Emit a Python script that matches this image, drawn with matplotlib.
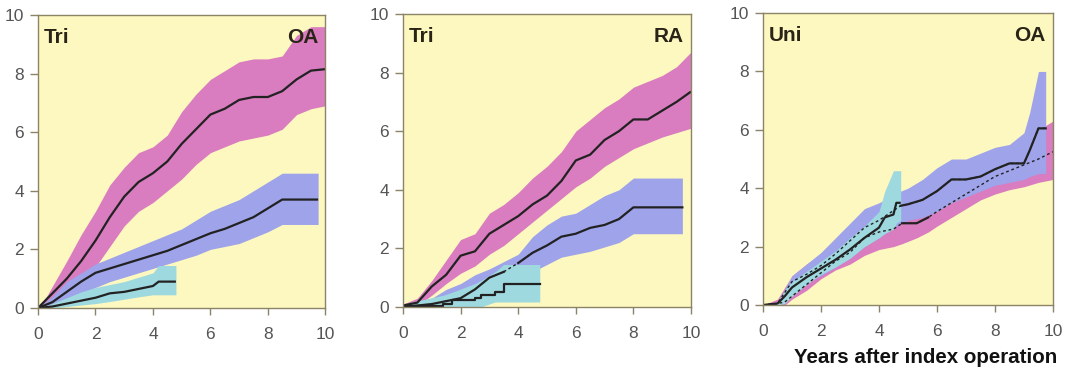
import matplotlib.pyplot as plt
import numpy as np

plt.rcParams['font.family'] = ['Liberation Sans', 'DejaVu Sans']

# ---- panel 1: Tri / OA ----
p1_mag_x = [0, 0.3, 1, 1.5, 2, 2.5, 3, 3.5, 4, 4.5, 5, 5.5, 6, 6.5, 7, 7.5, 8, 8.5, 9, 9.5, 10]
p1_mag_y = [0, 0.3, 1.0, 1.6, 2.3, 3.1, 3.8, 4.3, 4.6, 5.0, 5.6, 6.1, 6.6, 6.8, 7.1, 7.2, 7.2, 7.4, 7.8, 8.1, 8.15]
p1_mag_hi = [0, 0.4, 1.6, 2.5, 3.3, 4.2, 4.8, 5.3, 5.5, 5.9, 6.7, 7.3, 7.8, 8.1, 8.4, 8.5, 8.5, 8.6, 9.3, 9.6, 9.6]
p1_mag_lo = [0, 0.1, 0.4, 0.9, 1.4, 2.1, 2.8, 3.3, 3.6, 4.0, 4.4, 4.9, 5.3, 5.5, 5.7, 5.8, 5.9, 6.1, 6.6, 6.8, 6.9]

p1_blu_x = [0, 0.5, 1, 1.5, 2, 2.5, 3, 3.5, 4, 4.5, 5, 5.5, 6, 6.5, 7, 7.5, 8, 8.5, 9, 9.75]
p1_blu_y = [0, 0.2, 0.55, 0.9, 1.2, 1.35, 1.5, 1.65, 1.8, 1.95, 2.15, 2.35, 2.55, 2.7, 2.9, 3.1, 3.4, 3.7, 3.7, 3.7]
p1_blu_hi = [0, 0.4, 0.9, 1.2, 1.5, 1.7, 1.9, 2.1, 2.3, 2.5, 2.7, 3.0, 3.3, 3.5, 3.7, 4.0, 4.3, 4.6, 4.6, 4.6]
p1_blu_lo = [0, 0.05, 0.3, 0.5, 0.7, 0.9, 1.05, 1.2, 1.35, 1.5, 1.65, 1.8, 2.0, 2.1, 2.2, 2.4, 2.6, 2.85, 2.85, 2.85]

p1_cya_x = [0, 0.5, 1, 1.5, 2, 2.5, 3, 3.5, 4, 4.2, 4.8]
p1_cya_y = [0, 0.05, 0.15, 0.25, 0.35, 0.5, 0.55, 0.65, 0.75, 0.9, 0.9]
p1_cya_hi = [0, 0.15, 0.35, 0.55, 0.7, 0.8, 0.9, 1.05, 1.2, 1.45, 1.45]
p1_cya_lo = [0, 0.0, 0.05, 0.1, 0.15, 0.22, 0.3, 0.38, 0.45, 0.45, 0.45]

# ---- panel 2: Tri / RA ----
p2_mag_x = [0, 0.5, 1, 1.5, 2, 2.5, 3, 3.5, 4, 4.5, 5, 5.5, 6, 6.5, 7, 7.5, 8, 8.5, 9, 9.5, 10]
p2_mag_y = [0.05, 0.15, 0.7, 1.1, 1.75, 1.9, 2.5, 2.8, 3.1, 3.5, 3.8, 4.3, 5.0, 5.2, 5.7, 6.0, 6.4, 6.4, 6.7, 7.0, 7.35]
p2_mag_hi = [0.1, 0.3, 0.9, 1.6, 2.3, 2.5, 3.2, 3.5, 3.9, 4.4, 4.8, 5.3, 6.0, 6.4, 6.8, 7.1, 7.5, 7.7, 7.9, 8.2, 8.7]
p2_mag_lo = [0, 0.05, 0.4, 0.8, 1.15, 1.4, 1.8, 2.1, 2.5, 2.9, 3.3, 3.7, 4.1, 4.4, 4.8, 5.1, 5.4, 5.6, 5.8, 5.95, 6.1]

p2_blu_x = [0, 0.5, 1, 1.5, 2, 2.5, 3, 3.5, 4, 4.5, 5, 5.5, 6, 6.5, 7, 7.5, 8, 9.7]
p2_blu_y = [0, 0.05, 0.1, 0.2, 0.3, 0.6, 1.0, 1.2, 1.5, 1.85, 2.1, 2.4, 2.5, 2.7, 2.8, 3.0, 3.4, 3.4]
p2_blu_hi = [0.05, 0.15, 0.3, 0.6, 0.8, 1.1, 1.3, 1.55, 1.8, 2.4, 2.8, 3.1, 3.2, 3.5, 3.8, 4.0, 4.4, 4.4]
p2_blu_lo = [0, 0, 0, 0, 0.05, 0.15, 0.35, 0.6, 0.9, 1.2, 1.45, 1.7, 1.8, 1.9, 2.05, 2.2, 2.5, 2.5]
p2_blu_dash = (3.2, 4.4)

p2_cya_x = [0, 1.4, 1.7, 2.5, 2.7, 3.2, 3.5, 4.75]
p2_cya_y = [0.05, 0.1, 0.25, 0.3, 0.4, 0.5, 0.8, 0.8]
p2_cya_hi = [0.1, 0.4, 0.5, 0.8, 0.9, 1.2, 1.45, 1.45]
p2_cya_lo = [0, 0, 0, 0, 0, 0.17, 0.17, 0.17]

# ---- panel 3: Uni / OA ----
p3_mag_x = [0, 0.5, 0.75, 1, 1.5, 2, 2.5, 3, 3.5, 4, 4.5, 4.8, 5.3, 5.7, 6, 6.5, 7, 7.5, 8, 8.5, 9, 9.5, 10]
p3_mag_y = [0, 0.05, 0.1, 0.3, 0.7, 1.1, 1.5, 1.8, 2.3, 2.5, 2.6, 2.8, 2.8, 3.0, 3.2, 3.5, 3.8, 4.1, 4.4, 4.6, 4.8, 5.0, 5.25]
p3_mag_hi = [0, 0.2, 0.6, 1.0, 1.4, 1.75, 2.0, 2.3, 2.7, 3.0, 3.2, 3.3, 3.45, 3.65, 3.8, 4.05, 4.3, 4.6, 4.9, 5.1, 5.5, 6.0, 6.3]
p3_mag_lo = [0, 0, 0, 0.2, 0.5, 0.9, 1.2, 1.4, 1.7, 1.9, 2.0, 2.1, 2.3, 2.5, 2.7, 3.0, 3.3, 3.6, 3.8, 3.95, 4.05, 4.2, 4.3]
p3_mag_solid = (4.8, 5.8)

p3_blu_x = [0, 0.5, 1, 1.5, 2, 2.5, 3, 3.5, 4, 4.75, 5, 5.5, 6, 6.5, 7, 7.5, 8, 8.5, 9, 9.2, 9.5, 9.75]
p3_blu_y = [0, 0.05, 0.8, 1.05, 1.35, 1.75, 2.2, 2.65, 2.9, 3.4, 3.45, 3.6, 3.9, 4.3, 4.3, 4.4, 4.65, 4.85, 4.85, 5.3, 6.05, 6.05]
p3_blu_hi = [0, 0.1, 1.0, 1.4, 1.8, 2.3, 2.8, 3.3, 3.5, 3.9, 4.0, 4.3, 4.7, 5.0, 5.0, 5.2, 5.4, 5.5, 5.9, 6.6, 8.0, 8.0]
p3_blu_lo = [0, 0, 0.5, 0.8, 1.0, 1.3, 1.6, 2.0, 2.3, 2.8, 2.9, 3.0, 3.2, 3.5, 3.7, 3.9, 4.1, 4.2, 4.3, 4.4, 4.5, 4.5]
p3_blu_solid = (4.75, 9.75)

p3_cya_x = [0, 0.5, 0.75, 1, 1.5, 2, 2.5, 3, 3.5, 4, 4.2, 4.5, 4.6, 4.75]
p3_cya_y = [0, 0.05, 0.3, 0.6, 0.95, 1.25, 1.55, 1.9, 2.3, 2.65, 3.0, 3.1, 3.5, 3.5]
p3_cya_hi = [0, 0.1, 0.5, 0.8, 1.15, 1.5, 1.85, 2.3, 2.7, 3.2, 3.9, 4.6, 4.6, 4.6]
p3_cya_lo = [0, 0, 0.05, 0.3, 0.7, 1.05, 1.3, 1.6, 2.0, 2.3, 2.45, 2.6, 2.8, 2.9]

titles_left = ['Tri', 'Tri', 'Uni']
titles_right = ['OA', 'RA', 'OA']
ticks = [0, 2, 4, 6, 8, 10]

BG = '#fdf8bf'
MAG = '#d97cc0'
BLU = '#9ea3ea'
CYA = '#9fd9e0'
LINE = '#222222'
SPINE = '#8c8466'
TXT = '#555555'

fig = plt.figure(figsize=(10.68, 3.7), dpi=100)
axes = [fig.add_axes([0.0356, 0.1676, 0.269, 0.792]),
        fig.add_axes([0.3773, 0.1703, 0.2697, 0.792]),
        fig.add_axes([0.7144, 0.1757, 0.2715, 0.789])]


def band(ax, x, lo, hi, col):
    ax.fill_between(x, lo, hi, color=col, linewidth=0)


def curve(ax, x, y, ls='-', lw=1.6, rng=None):
    x = np.array(x); y = np.array(y)
    if rng is None:
        ax.plot(x, y, color=LINE, lw=lw, ls=ls, solid_capstyle='butt')
        return
    a, b = rng
    m_in = (x >= a) & (x <= b)
    ax.plot(x, y, color=LINE, lw=1.0, ls=(0, (2, 2)))
    ax.plot(x[m_in], y[m_in], color=LINE, lw=lw)


ax = axes[0]
band(ax, p1_mag_x, p1_mag_lo, p1_mag_hi, MAG)
band(ax, p1_blu_x, p1_blu_lo, p1_blu_hi, BLU)
band(ax, p1_cya_x, p1_cya_lo, p1_cya_hi, CYA)
curve(ax, p1_mag_x, p1_mag_y)
curve(ax, p1_blu_x, p1_blu_y)
curve(ax, p1_cya_x, p1_cya_y)

ax = axes[1]
band(ax, p2_mag_x, p2_mag_lo, p2_mag_hi, MAG)
band(ax, p2_blu_x, p2_blu_lo, p2_blu_hi, BLU)
band(ax, p2_cya_x, p2_cya_lo, p2_cya_hi, CYA)
curve(ax, p2_mag_x, p2_mag_y)
bx = np.array(p2_blu_x); by = np.array(p2_blu_y)
m = (bx <= p2_blu_dash[0] + 0.3)
ax.plot(bx[m], by[m], color=LINE, lw=1.6)
m = (bx >= p2_blu_dash[0]) & (bx <= p2_blu_dash[1] + 0.1)
ax.plot(bx[m], by[m], color=LINE, lw=1.0, ls=(0, (2, 2)))
m = (bx >= p2_blu_dash[1] - 0.4)
ax.plot(bx[m], by[m], color=LINE, lw=1.6)
ax.step(p2_cya_x, p2_cya_y, where='post', color=LINE, lw=1.6)

ax = axes[2]
band(ax, p3_mag_x, p3_mag_lo, p3_mag_hi, MAG)
band(ax, p3_blu_x, p3_blu_lo, p3_blu_hi, BLU)
band(ax, p3_cya_x, p3_cya_lo, p3_cya_hi, CYA)
curve(ax, p3_mag_x, p3_mag_y, rng=p3_mag_solid)
curve(ax, p3_blu_x, p3_blu_y, rng=p3_blu_solid)
curve(ax, p3_cya_x, p3_cya_y)

for i, ax in enumerate(axes):
    ax.set_facecolor(BG)
    ax.set_xlim(0, 10)
    ax.set_ylim(0, 10)
    ax.set_xticks(ticks)
    ax.set_yticks(ticks)
    ax.tick_params(direction='out', width=1, color=SPINE,
                   labelcolor=TXT, labelsize=12.5)
    ax.tick_params(axis='x', length=5, pad=9)
    ax.tick_params(axis='y', length=6, pad=4)
    for s in ax.spines.values():
        s.set_color(SPINE)
        s.set_linewidth(1.0)
    ax.text(0.02, 0.955, titles_left[i], transform=ax.transAxes, ha='left', va='top',
            fontsize=15, color='#2a2418', fontweight='bold')
    ax.text(0.975, 0.955, titles_right[i], transform=ax.transAxes, ha='right', va='top',
            fontsize=15, color='#2a2418', fontweight='bold')

fig.text(0.99, 0.035, 'Years after index operation', ha='right', va='center',
         fontsize=14.8, fontweight='bold', color='#111111')

fig.savefig('out.png', dpi=100)
